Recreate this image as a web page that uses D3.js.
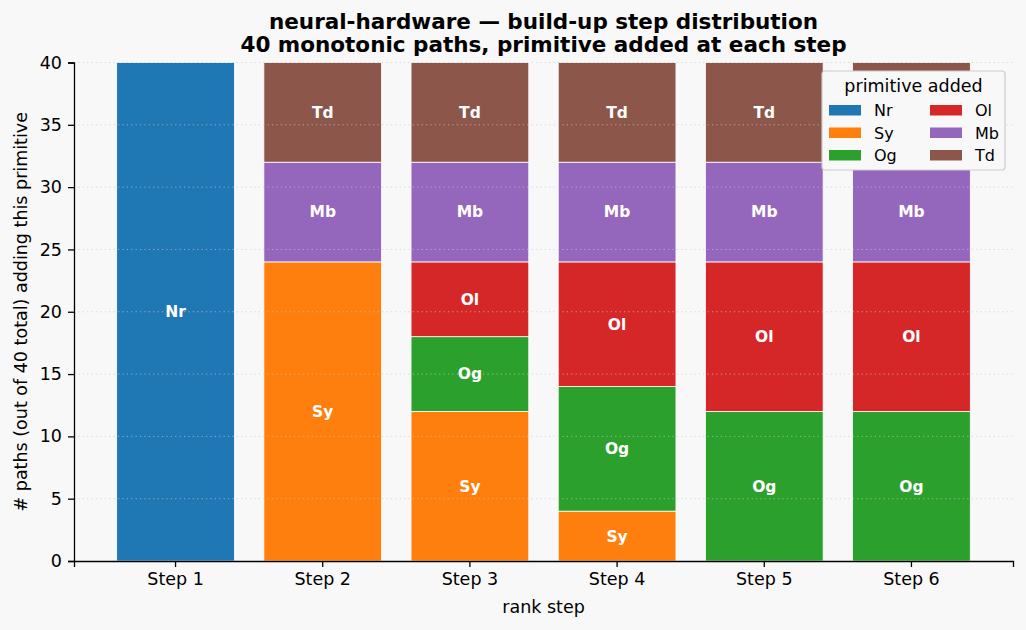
<!DOCTYPE html>
<html>
<head>
<meta charset="utf-8">
<script src="https://cdn.jsdelivr.net/npm/d3@7"></script>
<style>
  body { margin: 0; background: #f8f8f8; }
  svg { font-family: "DejaVu Sans", sans-serif; }
</style>
</head>
<body>
<script>
var steps = ["Step 1", "Step 2", "Step 3", "Step 4", "Step 5", "Step 6"];
var primitives = ["Nr", "Sy", "Og", "Ol", "Mb", "Td"];
var colors = ["#1f77b4", "#ff7f0e", "#2ca02c", "#d62728", "#9467bd", "#8c564b"];
// counts per step, one array per primitive
var Nr = [40, 0, 0, 0, 0, 0];
var Sy = [0, 24, 12, 4, 0, 0];
var Og = [0, 0, 6, 10, 12, 12];
var Ol = [0, 0, 6, 10, 12, 12];
var Mb = [0, 8, 8, 8, 8, 8];
var Td = [0, 8, 8, 8, 8, 8];
var yTicks = [0, 5, 10, 15, 20, 25, 30, 35, 40];

var counts = { Nr: Nr, Sy: Sy, Og: Og, Ol: Ol, Mb: Mb, Td: Td };
var table = steps.map(function (s, i) {
  var row = { step: s };
  primitives.forEach(function (p) { row[p] = counts[p][i]; });
  return row;
});

var outerWidth = 1026, outerHeight = 630;
var margin = { top: 62.5, right: 13, bottom: 69, left: 74 };
var width = outerWidth - margin.left - margin.right,
    height = outerHeight - margin.top - margin.bottom;

var svg = d3.select("body").append("svg")
  .attr("width", outerWidth).attr("height", outerHeight);
svg.append("rect").attr("width", outerWidth).attr("height", outerHeight).attr("fill", "#f8f8f8");

var g = svg.append("g").attr("transform", "translate(" + margin.left + "," + margin.top + ")");

var x = d3.scaleBand().domain(steps).range([0, width]).paddingInner(0.2).paddingOuter(0.29);
var y = d3.scaleLinear().domain([0, 40]).range([height, 0]);
var color = d3.scaleOrdinal().domain(primitives).range(colors);

var series = d3.stack().keys(primitives)(table);

var layer = g.append("g").selectAll("g").data(series).join("g")
  .attr("fill", function (d) { return color(d.key); });

layer.selectAll("rect").data(function (d) { return d; }).join("rect")
  .filter(function (d) { return d[1] - d[0] > 0; })
  .attr("x", function (d) { return x(d.data.step); })
  .attr("width", x.bandwidth())
  .attr("y", function (d) { return y(d[1]); })
  .attr("height", function (d) { return y(d[0]) - y(d[1]); })
  .attr("stroke", "#ffffff").attr("stroke-width", 0.8);

// grid (drawn over the bars, as in the original)
g.append("g").selectAll("line").data(yTicks.slice(1)).join("line")
  .attr("x1", 0).attr("x2", width)
  .attr("y1", function (d) { return y(d); }).attr("y2", function (d) { return y(d); })
  .attr("stroke", "#c8c8c8").attr("stroke-opacity", 0.7).attr("stroke-width", 1).attr("stroke-dasharray", "1.2,3.2");

series.forEach(function (s) {
  g.append("g").selectAll("text").data(s.filter(function (d) { return d[1] - d[0] > 0; })).join("text")
    .attr("x", function (d) { return x(d.data.step) + x.bandwidth() / 2; })
    .attr("y", function (d) { return y((d[0] + d[1]) / 2); })
    .attr("dy", "0.35em")
    .attr("text-anchor", "middle")
    .attr("fill", "#ffffff").attr("font-weight", "bold").attr("font-size", "15.5px")
    .text(s.key);
});

// axes
var xAxis = d3.axisBottom(x).tickSizeOuter(0).tickSize(6).tickPadding(6);
var xg = g.append("g").attr("transform", "translate(0," + height + ")").call(xAxis);
var yAxis = d3.axisLeft(y).tickValues(yTicks).tickSizeOuter(0).tickSize(6).tickPadding(6);
var yg = g.append("g").call(yAxis);
[xg, yg].forEach(function (a) {
  a.selectAll("text").attr("font-size", "17.5px").attr("fill", "#000").attr("font-family", "DejaVu Sans");
  a.selectAll("line").attr("stroke", "#000").attr("stroke-width", 1.3);
  a.select(".domain").attr("stroke", "#000").attr("stroke-width", 1.3);
});

// labels
svg.append("text").attr("x", margin.left + width / 2).attr("y", 613)
  .attr("text-anchor", "middle").attr("font-size", "17.5px").text("rank step");
svg.append("text").attr("transform", "translate(27," + (margin.top + height / 2) + ") rotate(-90)")
  .attr("text-anchor", "middle").attr("font-size", "17.5px").text("# paths (out of 40 total) adding this primitive");

var title = svg.append("text").attr("text-anchor", "middle").attr("font-weight", "bold").attr("font-size", "21.5px");
title.append("tspan").attr("x", margin.left + width / 2).attr("y", 29).text("neural-hardware \u2014 build-up step distribution");
title.append("tspan").attr("x", margin.left + width / 2).attr("y", 52).text("40 monotonic paths, primitive added at each step");

// legend
var lg = svg.append("g").attr("transform", "translate(822,71)");
lg.append("rect").attr("width", 183).attr("height", 99).attr("rx", 3)
  .attr("fill", "#f8f8f8").attr("stroke", "#cccccc").attr("stroke-width", 1.2);
lg.append("text").attr("x", 91.5).attr("y", 21).attr("text-anchor", "middle").attr("font-size", "17.5px").text("primitive added");
var item = lg.selectAll("g.item").data(primitives).join("g").attr("class", "item")
  .attr("transform", function (d, i) {
    var col = Math.floor(i / 3), row = i % 3;
    return "translate(" + (7 + col * 101) + "," + (34 + row * 22.5) + ")";
  });
item.append("rect").attr("width", 32).attr("height", 10.5).attr("fill", function (d) { return color(d); });
item.append("text").attr("x", 45).attr("y", 5.5).attr("dy", "0.35em").attr("font-size", "16px").text(function (d) { return d; });
</script>
</body>
</html>
